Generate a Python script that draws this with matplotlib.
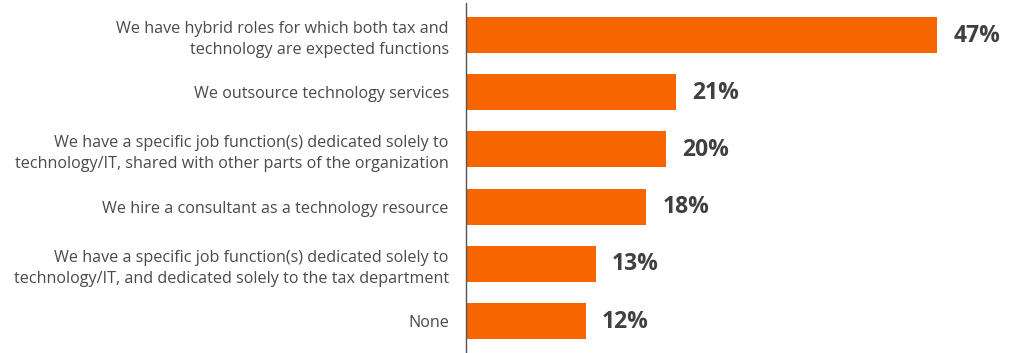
import matplotlib
matplotlib.use("Agg")
import matplotlib.pyplot as plt

# Survey responses: how tax departments source technology expertise
categories = [
    "We have hybrid roles for which both tax and\ntechnology are expected functions",
    "We outsource technology services",
    "We have a specific job function(s) dedicated solely to\ntechnology/IT, shared with other parts of the organization",
    "We hire a consultant as a technology resource",
    "We have a specific job function(s) dedicated solely to\ntechnology/IT, and dedicated solely to the tax department",
    "None",
]
values = [47, 21, 20, 18, 13, 12]

BAR_COLOR = "#F76500"
LABEL_COLOR = "#4a4a4a"
VALUE_COLOR = "#404040"

W, H, DPI = 1014, 353, 100
fig = plt.figure(figsize=(W / DPI, H / DPI), dpi=DPI)
fig.patch.set_facecolor("white")

ax_left = 465.5 / W
ax_top_px = 3
ax = fig.add_axes([ax_left, 0, 1 - ax_left, (H - ax_top_px) / H])

step = 57.2
ypos = list(range(len(categories)))
ax.barh(ypos, values, height=36 / step, color=BAR_COLOR, left=0)

ax.set_xlim(0, (W - 465.5) / 10.04)
ax.set_ylim(len(categories) - 1 + (H - 321) / step, -32 / step)

for spine in ["top", "right", "bottom"]:
    ax.spines[spine].set_visible(False)
ax.spines["left"].set_color("#555555")
ax.spines["left"].set_linewidth(1.0)
ax.set_xticks([])
ax.set_yticks(ypos)
ax.set_yticklabels(categories, fontsize=11.6, color=LABEL_COLOR,
                   family=["Open Sans", "DejaVu Sans"], linespacing=1.4)
ax.tick_params(axis="y", length=0, pad=12)

for y, v in zip(ypos, values):
    ax.annotate(f"{v}%", xy=(v, y), xytext=(11.5, -0.5), textcoords="offset points",
                ha="left", va="center", fontsize=16.5, fontweight="bold",
                color=VALUE_COLOR, family=["Open Sans", "DejaVu Sans"])

fig.savefig("out.png", dpi=DPI, facecolor="white")
